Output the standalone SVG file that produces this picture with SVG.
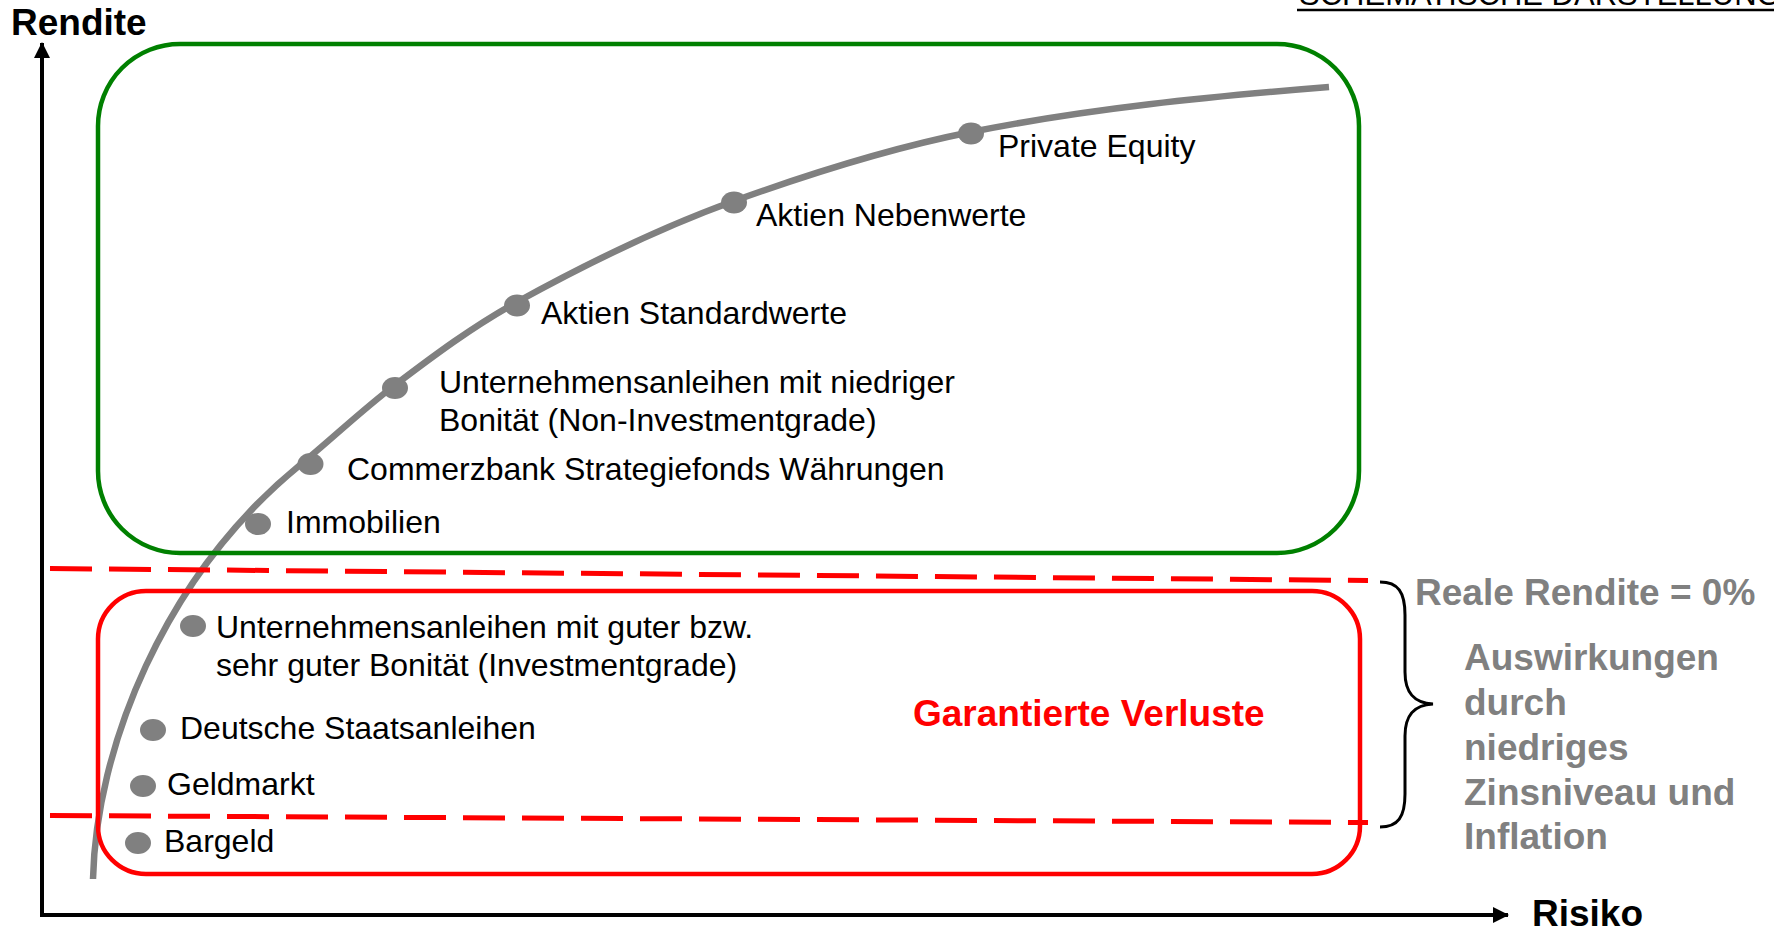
<svg xmlns="http://www.w3.org/2000/svg" width="1774" height="930" viewBox="0 0 1774 930">
<style>
text{font-family:"Liberation Sans",Arial,Helvetica,sans-serif}
.lbl{font-size:32px;fill:#000}
.ax{font-size:37px;font-weight:bold;fill:#000}
.grey{font-size:37px;font-weight:bold;fill:#808080}
.dot{fill:#808080}
.dash{stroke:#ff0000;stroke-width:5;fill:none;stroke-dasharray:42 17}
</style>
<defs>
<marker id="arr" viewBox="0 0 16 16" refX="15" refY="8" markerWidth="16" markerHeight="16" markerUnits="userSpaceOnUse" orient="auto">
<path d="M0,0 L16,8 L0,16 Z" fill="#000"/>
</marker>
</defs>
<rect width="1774" height="930" fill="#fff"/>

<g id="header">
<text x="1299" y="5" style="font-size:31px;fill:#000">SCHEMATISCHE DARSTELLUNG</text>
<line x1="1297" y1="10" x2="1774" y2="10" stroke="#000" stroke-width="2.5"/>
</g>

<g id="axes">
<path d="M42,915 L42,43" stroke="#000" stroke-width="4" fill="none" marker-end="url(#arr)"/>
<path d="M40,915 L1508,915" stroke="#000" stroke-width="4" fill="none" marker-end="url(#arr)"/>
<text class="ax" x="11" y="35">Rendite</text>
<text class="ax" x="1532" y="926">Risiko</text>
</g>

<g id="curve">
<path d="M93,879 C96,750 162,578 300,465 C332,438.8 362,410 395,385 C434.2,355.2 473.9,325.7 517,302 C586.9,263.5 658.9,228.1 734,201 C811.4,173.1 890.3,148.1 971,132 C1089,108.4 1209.1,96.6 1329,87" stroke="#808080" stroke-width="6.5" fill="none"/>
</g>

<g id="zone-green">
<rect x="98" y="44" width="1261" height="509" rx="82" ry="82" fill="none" stroke="#008000" stroke-width="4.5"/>
</g>

<g id="zone-red">
<rect x="98" y="591" width="1262" height="283" rx="48" ry="48" fill="none" stroke="#ff0000" stroke-width="4.5"/>
<text x="913" y="726" style="font-size:37px;font-weight:bold;fill:#ff0000">Garantierte Verluste</text>
</g>

<g id="connectors">
<path class="dash" d="M50,568.5 L1368,580.5"/>
<path class="dash" d="M50,815.5 L1368,822.5"/>
<path d="M1380,582 C1398,582 1405,592 1405,615 L1405,672 C1405,693 1414,703 1433,704 C1414,705 1405,715 1405,736 L1405,794 C1405,817 1398,827 1380,827" stroke="#000" stroke-width="3" fill="none"/>
</g>

<g id="n-private-equity"><ellipse class="dot" cx="971" cy="133.5" rx="13" ry="11"/><text class="lbl" x="998" y="157">Private Equity</text></g>
<g id="n-aktien-nebenwerte"><ellipse class="dot" cx="734" cy="202.5" rx="13" ry="11"/><text class="lbl" x="756" y="226">Aktien Nebenwerte</text></g>
<g id="n-aktien-standardwerte"><ellipse class="dot" cx="517" cy="305.5" rx="13" ry="11"/><text class="lbl" x="541" y="324">Aktien Standardwerte</text></g>
<g id="n-ua-niedrig"><ellipse class="dot" cx="395" cy="388" rx="13" ry="11"/><text class="lbl" x="439" y="393">Unternehmensanleihen mit niedriger</text><text class="lbl" x="439" y="431">Bonität (Non-Investmentgrade)</text></g>
<g id="n-commerzbank"><ellipse class="dot" cx="310.5" cy="464" rx="13" ry="11"/><text class="lbl" x="347" y="480">Commerzbank Strategiefonds Währungen</text></g>
<g id="n-immobilien"><ellipse class="dot" cx="258" cy="524" rx="13" ry="11"/><text class="lbl" x="286" y="533">Immobilien</text></g>
<g id="n-ua-gut"><ellipse class="dot" cx="193" cy="626" rx="13" ry="11"/><text class="lbl" x="216" y="638">Unternehmensanleihen mit guter bzw.</text><text class="lbl" x="216" y="676">sehr guter Bonität (Investmentgrade)</text></g>
<g id="n-staatsanleihen"><ellipse class="dot" cx="153" cy="730" rx="13" ry="11"/><text class="lbl" x="180" y="739">Deutsche Staatsanleihen</text></g>
<g id="n-geldmarkt"><ellipse class="dot" cx="143" cy="786" rx="13" ry="11"/><text class="lbl" x="167" y="795">Geldmarkt</text></g>
<g id="n-bargeld"><ellipse class="dot" cx="138" cy="843" rx="13" ry="11"/><text class="lbl" x="164" y="852">Bargeld</text></g>

<g id="annotation">
<text class="grey" x="1415" y="605">Reale Rendite = 0%</text>
<text class="grey" x="1464" y="670">Auswirkungen</text>
<text class="grey" x="1464" y="715">durch</text>
<text class="grey" x="1464" y="760">niedriges</text>
<text class="grey" x="1464" y="805">Zinsniveau und</text>
<text class="grey" x="1464" y="849">Inflation</text>
</g>
</svg>
